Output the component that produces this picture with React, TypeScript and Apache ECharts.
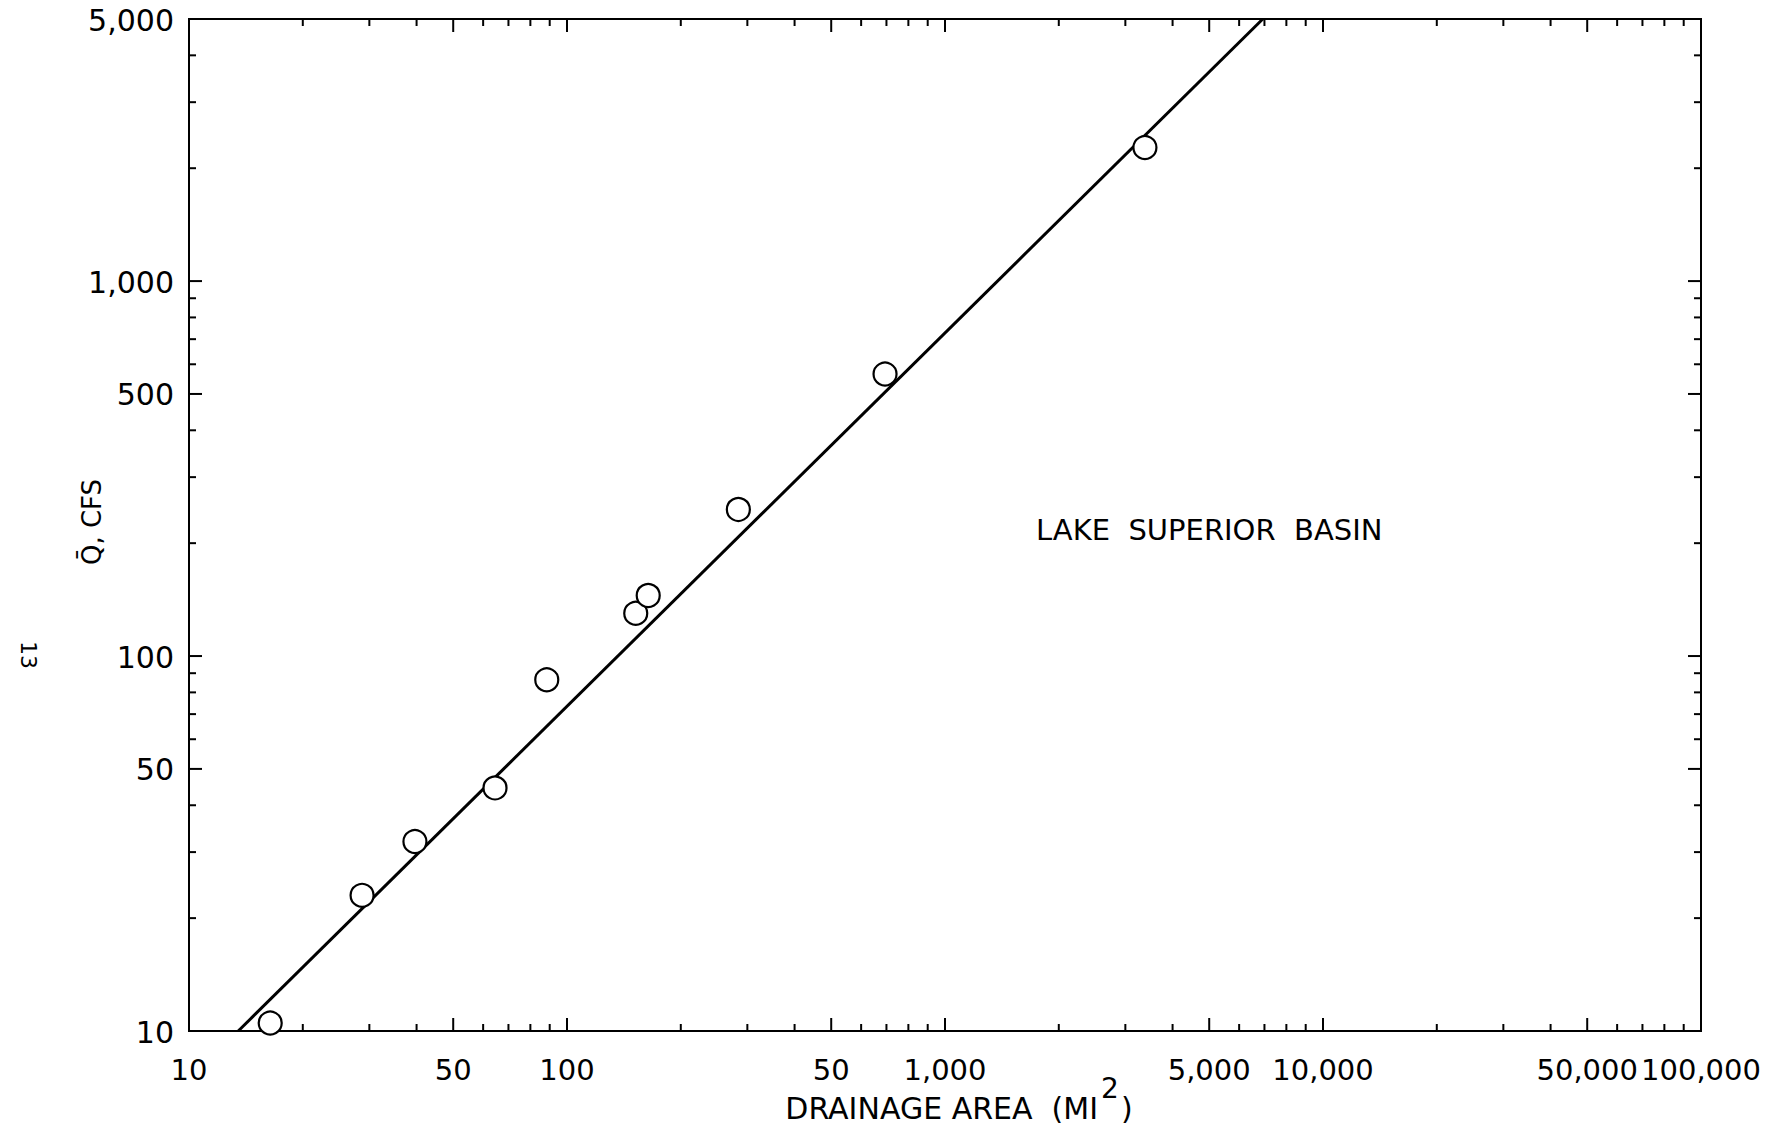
import React, { useEffect, useRef } from "react";
import * as echarts from "echarts";

// Observed stations (drainage area in mi², mean flow Q̄ in cfs)
const drainageArea = [16.4, 28.7, 39.6, 64.5, 88.4, 152, 164, 284, 694, 3380];
const meanFlow = [10.5, 23.0, 32.0, 44.5, 86.4, 130, 145, 246, 565, 2270];

// Fitted relation (end points)
const fitArea = [13.5, 6930];
const fitFlow = [10, 5000];

// Axis ranges
const xMin = 10;
const xMax = 100000;
const yMin = 10;
const yMax = 5000;

// Tick labels (as printed in the original, including its "50" for 500)
const xLabelValues = [10, 50, 100, 500, 1000, 5000, 10000, 50000, 100000];
const xLabelTexts = ["10", "50", "100", "50", "1,000", "5,000", "10,000", "50,000", "100,000"];
const yLabelValues = [10, 50, 100, 500, 1000, 5000];
const yLabelTexts = ["10", "50", "100", "500", "1,000", "5,000"];

// Tick structure of the log paper
const xDecades = [10, 100, 1000, 10000];
const yDecades = [10, 100, 1000];
const multipliers = [1, 2, 3, 4, 5, 6, 7, 8, 9];
const majorMultipliers = [1, 5];

const FONT = "'DejaVu Sans', 'Liberation Sans', sans-serif";

function buildTicks() {
  const out: number[][] = [];
  const MAJ = 13;
  const MIN = 7;
  xDecades.forEach((d) => {
    multipliers.forEach((m) => {
      const v = d * m;
      if (v <= xMin || v >= xMax) return;
      const len = majorMultipliers.includes(m) ? MAJ : MIN;
      out.push([v, yMin, len, 0]);
      out.push([v, yMax, len, 1]);
    });
  });
  yDecades.forEach((d) => {
    multipliers.forEach((m) => {
      const v = d * m;
      if (v <= yMin || v >= yMax) return;
      const len = majorMultipliers.includes(m) ? MAJ : MIN;
      out.push([xMin, v, len, 2]);
      out.push([xMax, v, len, 3]);
    });
  });
  return out;
}

function buildLabels() {
  const out: number[][] = [];
  xLabelValues.forEach((v, i) => out.push([v, yMin, i, 0]));
  yLabelValues.forEach((v, i) => out.push([xMin, v, i, 1]));
  return out;
}

function txt(x: number, y: number, text: string, size: number, align: string, rotation = 0) {
  return {
    type: "text",
    x,
    y,
    rotation,
    style: {
      text,
      fill: "#000",
      fontSize: size,
      fontFamily: FONT,
      align,
      verticalAlign: "middle",
      textAlign: align,
      textVerticalAlign: "middle",
    },
  };
}

export default function App() {
  const ref = useRef<HTMLDivElement>(null);

  useEffect(() => {
    if (!ref.current) return;
    const chart = echarts.init(ref.current, null, { renderer: "svg" });

    const option: any = {
      animation: false,
      backgroundColor: "#ffffff",
      grid: {
        show: true,
        left: 189,
        right: 88,
        top: 19,
        bottom: 96,
        borderColor: "#000",
        borderWidth: 2,
        backgroundColor: "transparent",
        containLabel: false,
        outerBoundsMode: "none",
      },
      xAxis: {
        type: "log",
        logBase: 10,
        min: xMin,
        max: xMax,
        axisLine: { show: false },
        axisTick: { show: false },
        axisLabel: { show: false },
        splitLine: { show: false },
      },
      yAxis: {
        type: "log",
        logBase: 10,
        min: yMin,
        max: yMax,
        axisLine: { show: false },
        axisTick: { show: false },
        axisLabel: { show: false },
        splitLine: { show: false },
      },
      series: [
        {
          type: "custom",
          name: "ticks",
          silent: true,
          z: 4,
          dimensions: ["x", "y", "len", "side"],
          encode: { x: 0, y: 1 },
          data: buildTicks(),
          renderItem: (_p: any, api: any) => {
            const p = api.coord([api.value(0), api.value(1)]);
            const len = api.value(2);
            const side = api.value(3);
            let x2 = p[0];
            let y2 = p[1];
            if (side === 0) y2 = p[1] - len;
            else if (side === 1) y2 = p[1] + len;
            else if (side === 2) x2 = p[0] + len;
            else x2 = p[0] - len;
            return {
              type: "line",
              shape: { x1: p[0], y1: p[1], x2, y2 },
              style: { stroke: "#000", lineWidth: 2 },
            };
          },
        },
        {
          type: "custom",
          name: "labels",
          silent: true,
          z: 4,
          dimensions: ["x", "y", "idx", "side"],
          encode: { x: 0, y: 1 },
          data: buildLabels(),
          renderItem: (_p: any, api: any) => {
            const p = api.coord([api.value(0), api.value(1)]);
            const idx = api.value(2);
            const side = api.value(3);
            if (side === 0) {
              return {
                type: "text",
                x: p[0],
                y: p[1] + 39,
                style: {
                  text: xLabelTexts[idx],
                  fill: "#000",
                  fontSize: 29,
                  fontFamily: FONT,
                  align: "center",
                  verticalAlign: "middle",
                },
              };
            }
            return {
              type: "text",
              x: p[0] - 15,
              y: p[1] + 1,
              style: {
                text: yLabelTexts[idx],
                fill: "#000",
                fontSize: 30,
                fontFamily: FONT,
                align: "right",
                verticalAlign: "middle",
              },
            };
          },
        },
        {
          type: "line",
          name: "fit",
          z: 3,
          showSymbol: false,
          symbol: "none",
          lineStyle: { color: "#000", width: 3 },
          data: fitArea.map((a, i) => [a, fitFlow[i]]),
        },
        {
          type: "scatter",
          name: "stations",
          z: 5,
          symbol: "circle",
          symbolSize: 23,
          itemStyle: { color: "#fff", borderColor: "#000", borderWidth: 2.2, opacity: 1 },
          data: drainageArea.map((a, i) => [a, meanFlow[i]]),
        },
      ],
      graphic: [
        txt(1036, 530, "LAKE  SUPERIOR  BASIN", 29, "left"),
        txt(1098, 1108, "DRAINAGE AREA  (MI", 30, "right"),
        txt(1101, 1088, "2", 28, "left"),
        txt(1121, 1108, ")", 30, "left"),
        txt(92, 522, "Q\u0304, CFS", 26, "center", Math.PI / 2),
        txt(28, 655, "13", 22, "center", -Math.PI / 2),
      ],
    };

    chart.setOption(option);
    return () => chart.dispose();
  }, []);

  return (
    <div
      ref={ref}
      style={{ position: "absolute", left: 0, top: 0, width: 1789, height: 1127 }}
    />
  );
}
